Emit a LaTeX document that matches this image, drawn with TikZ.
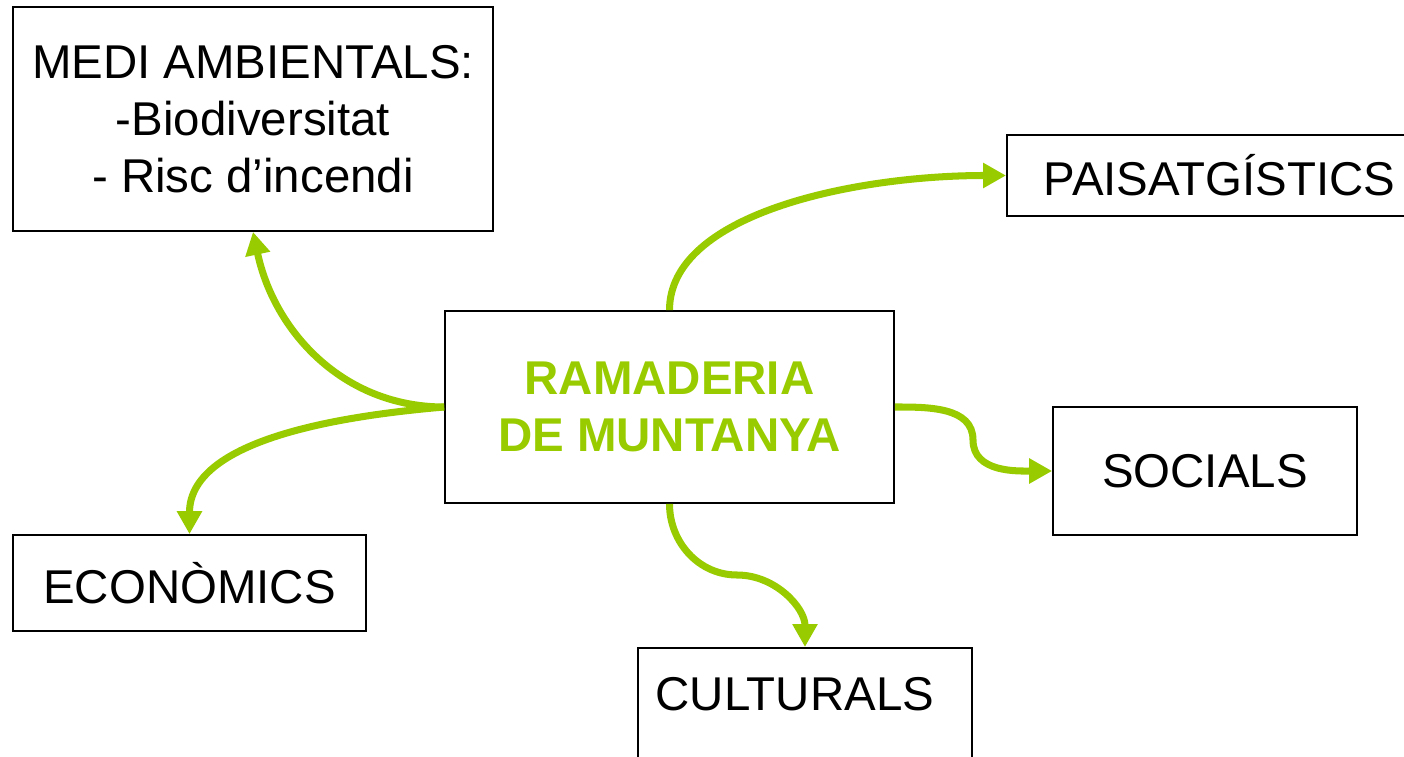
\documentclass[tikz,border=0pt]{standalone}
\usepackage{fontspec}
\setmainfont{Liberation Sans}
\usetikzlibrary{arrows.meta,calc}
\definecolor{ramgreen}{RGB}{153,204,0}

\begin{document}
\begin{tikzpicture}[x=0.02cm,y=-0.02cm,
    caixa/.style={draw=black,line width=1pt,inner sep=0pt,font=\fontsize{27}{32.5}\selectfont},
    fletxa/.style={draw=ramgreen,line width=4pt,-{Triangle[length=0.46cm,width=0.48cm]}}]
           \useasboundingbox (0,0) rectangle (1404,757);
           \node[caixa,minimum width=9.6cm,minimum height=4.48cm,align=center] (medi) at (253,119) {MEDI AMBIENTALS:\\-Biodiversitat\\- Risc d’incendi};
           \node[caixa,minimum width=8.98cm,minimum height=3.84cm,align=center,text=ramgreen,font=\fontsize{27}{32.5}\selectfont\bfseries] (centre) at (669.5,407) {RAMADERIA\\DE MUNTANYA};
           \node[caixa,anchor=west,minimum height=1.62cm,inner xsep=0.74cm] (pais) at (1006,175.5) {PAISATGÍSTICS};
           \node[caixa,minimum width=6.08cm,minimum height=2.56cm] (soc) at (1205,471) {SOCIALS};
           \node[caixa,minimum width=7.06cm,minimum height=1.92cm] (econ) at (189.5,583) {ECONÒMICS};
           \node[caixa,anchor=north,text width=5.98cm,align=left,inner xsep=0.35cm,inner ysep=0.6cm,text depth=1.5cm] (cult) at (805,647) {CULTURALS};
           \coordinate (s1) at (973,440);
           \coordinate (c1) at (737,575);
           \draw[fletxa] (centre.west) to[out=180,in=-78] (medi.south);
           \draw[fletxa] (centre.west) to[out=185,in=90,out distance=1.6cm,in distance=2cm] (econ.north);
           \draw[fletxa] (centre.north) to[out=90,in=180,out distance=1.94cm,in distance=3cm] (pais.west);
           \draw[fletxa] (centre.east) to[out=0,in=90] (s1) to[out=-90,in=180] (soc.west);
           \draw[fletxa] (centre.south) to[out=-90,in=180] (c1) to[out=0,in=90] (cult.north);
        \end{tikzpicture}
\end{document}
